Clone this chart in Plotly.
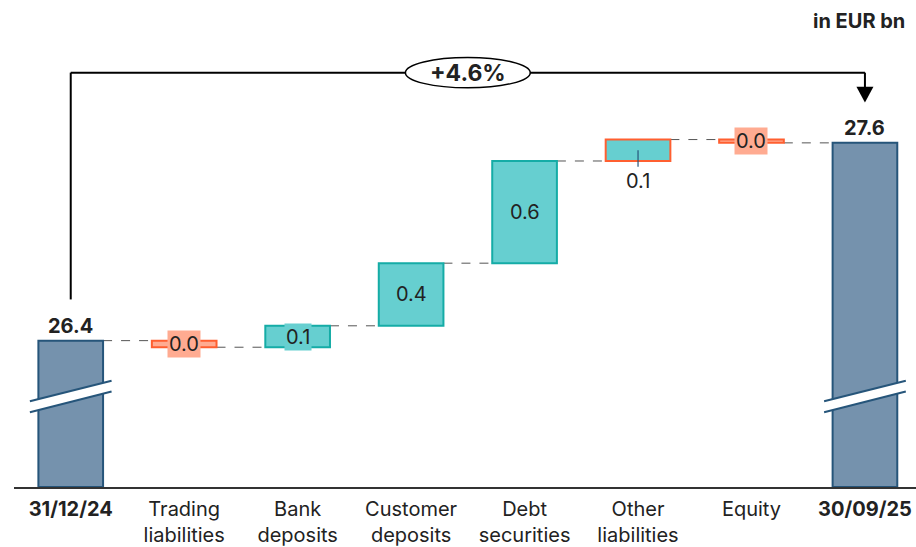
import plotly.graph_objects as go

# ---- data (EUR bn) ----
categories = ["31/12/24", "Trading<br>liabilities", "Bank<br>deposits", "Customer<br>deposits",
              "Debt<br>securities", "Other<br>liabilities", "Equity", "30/09/25"]
start_total = 26.4
end_total = 27.6
step_changes = [-0.04, 0.13, 0.38, 0.62, 0.13, -0.02]
growth_label = "+4.6%"
unit_label = "in EUR bn"

# ---- styling ----
FONT = "Inter"
TOTAL_FILL = "#7592ad"
TOTAL_LINE = "#26557a"
TEAL_FILL = "#66cfd0"
TEAL_LINE = "#15aca6"
ORANGE_LINE = "#ff5f30"
SALMON = "#ffab91"
TEXT = "#222222"
AXIS_FLOOR = 25.512
AXIS_TOP = 28.218
BAR_W = 0.57

n = len(categories)
xs = list(range(n))

# running levels for the floating steps
levels = [start_total]
for c in step_changes:
    levels.append(levels[-1] + c)

bases, heights, fills, lines = [], [], [], []
# opening total
bases.append(AXIS_FLOOR); heights.append(start_total - AXIS_FLOOR)
fills.append(TOTAL_FILL); lines.append(TOTAL_LINE)
for i, c in enumerate(step_changes):
    lo = min(levels[i], levels[i + 1])
    bases.append(lo); heights.append(abs(c))
    if abs(c) < 0.05:
        fills.append(SALMON); lines.append(ORANGE_LINE)
    elif categories[i + 1].startswith("Other"):
        fills.append(TEAL_FILL); lines.append(ORANGE_LINE)
    else:
        fills.append(TEAL_FILL); lines.append(TEAL_LINE)
# closing total
bases.append(AXIS_FLOOR); heights.append(end_total - AXIS_FLOOR)
fills.append(TOTAL_FILL); lines.append(TOTAL_LINE)

fig = go.Figure(go.Bar(
    x=xs, y=heights, base=bases, width=BAR_W,
    marker=dict(color=fills, line=dict(color=lines, width=2)),
    hoverinfo="skip",
))

shapes = []
annotations = []

# dashed connectors between consecutive bars
conn_levels = levels + [end_total]
for i in range(n - 1):
    lvl = conn_levels[i]
    shapes.append(dict(type="line", xref="x", yref="y",
                       x0=i + BAR_W / 2, x1=i + 1 - BAR_W / 2, y0=lvl, y1=lvl,
                       line=dict(color="#555555", width=1, dash="dash"), layer="below"))

# axis-break marks on the two total bars
for xi in (0, n - 1):
    yb = AXIS_FLOOR + 0.52
    dx = 0.36
    slope = 0.125
    gap = 0.066
    shapes.append(dict(type="path", xref="x", yref="y",
                       path=f"M {xi-dx},{yb-gap} L {xi+dx},{yb-gap+slope} L {xi+dx},{yb+slope} L {xi-dx},{yb} Z",
                       fillcolor="white", line=dict(width=0)))
    for off in (0, -gap):
        shapes.append(dict(type="line", xref="x", yref="y",
                           x0=xi - dx, y0=yb + off, x1=xi + dx, y1=yb + off + slope,
                           line=dict(color=TOTAL_LINE, width=2)))

# growth bracket from opening to closing total
br_y = 28.026
shapes += [
    dict(type="line", xref="x", yref="y", x0=0, x1=0, y0=start_total + 0.25, y1=br_y,
         line=dict(color="black", width=2)),
    dict(type="line", xref="x", yref="y", x0=0, x1=n - 1, y0=br_y, y1=br_y,
         line=dict(color="black", width=2)),
    dict(type="line", xref="x", yref="y", x0=n - 1, x1=n - 1, y0=br_y, y1=end_total + 0.33,
         line=dict(color="black", width=2)),
    dict(type="path", xref="x", yref="y",
         path=f"M {n-1-0.075},{end_total+0.34} L {n-1+0.075},{end_total+0.34} L {n-1},{end_total+0.245} Z",
         fillcolor="black", line=dict(width=0)),
    dict(type="circle", xref="x", yref="y", x0=(n - 1) / 2 - 0.55, x1=(n - 1) / 2 + 0.55,
         y0=br_y - 0.092, y1=br_y + 0.092, fillcolor="white", line=dict(color="black", width=1.5)),
]
annotations.append(dict(x=(n - 1) / 2, y=br_y, xref="x", yref="y", text=f"<b>{growth_label}</b>",
                        showarrow=False, font=dict(family=FONT, size=23, color=TEXT)))

# total value labels
for xi, v in ((0, start_total), (n - 1, end_total)):
    annotations.append(dict(x=xi, y=v, xref="x", yref="y", text=f"<b>{v:.1f}</b>", yanchor="bottom",
                            yshift=1, showarrow=False, font=dict(family=FONT, size=20, color=TEXT)))

# step value labels
for i, c in enumerate(step_changes):
    xi = i + 1
    mid = (levels[i] + levels[i + 1]) / 2
    txt = f"{abs(c):.1f}"
    if abs(c) < 0.05:
        annotations.append(dict(x=xi, y=mid, xref="x", yref="y", text=txt, showarrow=False,
                                bgcolor=SALMON, borderpad=1,
                                font=dict(family=FONT, size=20, color=TEXT)))
    elif categories[xi].startswith("Other"):
        lo = min(levels[i], levels[i + 1])
        shapes.append(dict(type="line", xref="x", yref="y", x0=xi, x1=xi, y0=mid, y1=lo - 0.035,
                           line=dict(color=TOTAL_LINE, width=1.2)))
        annotations.append(dict(x=xi, y=lo - 0.035, xref="x", yref="y", text=txt, showarrow=False,
                                yanchor="top", font=dict(family=FONT, size=20, color=TEXT)))
    elif abs(c) < 0.2:
        annotations.append(dict(x=xi, y=mid, xref="x", yref="y", text=txt, showarrow=False,
                                bgcolor=TEAL_FILL, borderpad=1,
                                font=dict(family=FONT, size=20, color=TEXT)))
    else:
        annotations.append(dict(x=xi, y=mid, xref="x", yref="y", text=txt, showarrow=False,
                                font=dict(family=FONT, size=20, color=TEXT)))

# unit label
annotations.append(dict(x=1, y=1, xref="paper", yref="paper", xanchor="right", yanchor="top",
                        text=f"<b>{unit_label}</b>", showarrow=False, yshift=34, xshift=-9,
                        font=dict(family=FONT, size=20, color=TEXT)))

ticktext = [f"<b>{c}</b>" if i in (0, n - 1) else c for i, c in enumerate(categories)]

fig.update_layout(
    width=916, height=547,
    margin=dict(l=14, r=0, t=41, b=55),
    paper_bgcolor="white", plot_bgcolor="white",
    showlegend=False,
    shapes=shapes, annotations=annotations,
    xaxis=dict(range=[-0.5, n - 0.55], tickvals=xs, ticktext=ticktext,
               tickfont=dict(family=FONT, size=20, color=TEXT),
               showgrid=False, zeroline=False, showline=True, linecolor="#333333", linewidth=2,
               ticks="", ticklabelstandoff=3),
    yaxis=dict(range=[AXIS_FLOOR, AXIS_TOP], visible=False, showgrid=False, zeroline=False),
)

fig.write_html("out.html")
